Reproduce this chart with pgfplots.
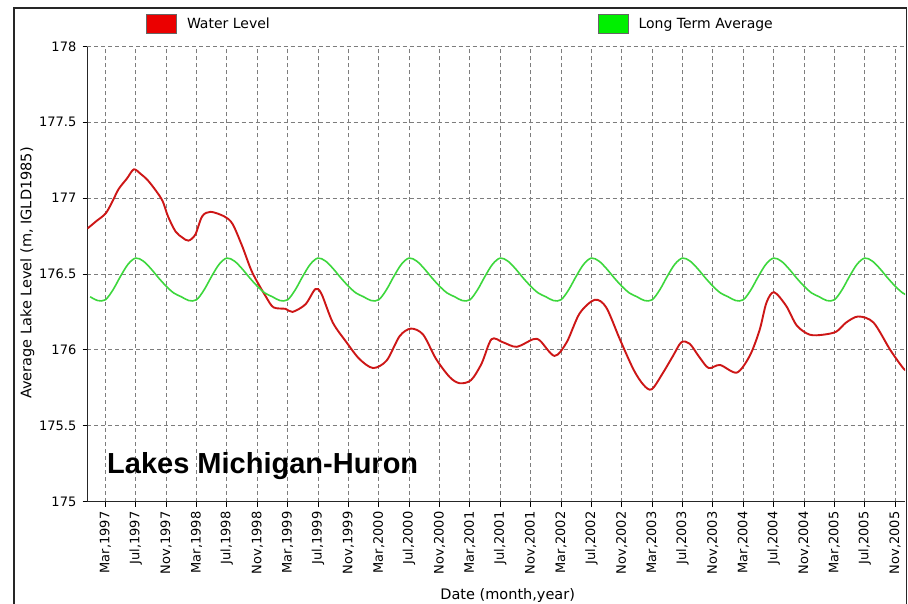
\documentclass[border=0pt]{standalone}
\usepackage{fontspec}
\setmainfont{DejaVu Sans}
\newfontfamily\titlefont{Liberation Sans}
\usepackage{pgfplots}
\pgfplotsset{compat=1.18}
\definecolor{wred}{RGB}{205,22,22}
\definecolor{lgreen}{RGB}{60,215,60}
\definecolor{legred}{RGB}{235,0,0}
\definecolor{leggreen}{RGB}{0,240,0}
\definecolor{gridgray}{RGB}{125,125,125}
\begin{document}
\begin{tikzpicture}[x=1pt,y=1pt]
\useasboundingbox (-87.5,-101.5) rectangle (820.5,501.5);
\fill[white] (-87.5,-101.5) rectangle (820.5,501.5);
\draw[line width=1.3pt, black!85] (-73.5,-120) -- (-73.5,493.5) -- (819,493.5) -- (819,-120);
\begin{axis}[
  at={(0,0)}, anchor=south west,
  scale only axis, width=817.5pt, height=455pt,
  xmin=-0.35, xmax=107.3, ymin=175, ymax=178,
  axis x line*=bottom, axis y line*=left,
  axis line style={line width=1.3pt, black!85, -},
  tick align=outside, major tick length=5pt,
  tick style={black, line width=0.9pt},
  grid=major,
  grid style={gridgray, line width=0.8pt, dash pattern=on 4pt off 3pt},
  xtick={2,6,...,106},
  xticklabels={{Mar,1997},{Jul,1997},{Nov,1997},{Mar,1998},{Jul,1998},{Nov,1998},{Mar,1999},{Jul,1999},{Nov,1999},{Mar,2000},{Jul,2000},{Nov,2000},{Mar,2001},{Jul,2001},{Nov,2001},{Mar,2002},{Jul,2002},{Nov,2002},{Mar,2003},{Jul,2003},{Nov,2003},{Mar,2004},{Jul,2004},{Nov,2004},{Mar,2005},{Jul,2005},{Nov,2005}},
  ytick={175,175.5,176,176.5,177,177.5,178},
  yticklabels={175,175.5,176,176.5,177,177.5,178},
  xticklabel style={rotate=90, anchor=east, inner sep=0pt, xshift=-5pt, font=\fontsize{13}{15}\selectfont},
  yticklabel style={anchor=east, inner sep=0pt, xshift=-6pt, font=\fontsize{13}{15}\selectfont},
  xlabel={Date (month,year)},
  ylabel={Average Lake Level (m, IGLD1985)},
  xlabel style={at={(axis description cs:0.514,-0.2055)}, anchor=center, font=\fontsize{14.5}{16}\selectfont},
  ylabel style={at={(axis description cs:-0.0735,0.502)}, anchor=center, font=\fontsize{14.5}{16}\selectfont},
  legend columns=2,
  legend style={at={(axis description cs:0.0716,1.0495)}, anchor=west, draw=none, fill=none,
    inner sep=0pt, nodes={inner sep=0pt, anchor=west}, font=\fontsize{14}{16}\selectfont,
    /tikz/every odd column/.style={column sep=10pt},
    /tikz/every even column/.style={column sep=328pt}},
  clip=true,
]
\addplot[wred, line width=1.9pt, smooth, tension=0.5,
  x filter/.code={\pgfmathparse{\pgfmathresult-0.35}},
  legend image code/.code={\filldraw[line width=0.8pt, draw=black!60, fill=legred] (0pt,-9.5pt) rectangle (30pt,9.5pt);}]
  table {
x y
0 176.80
1.2 176.85
2.4 176.90
3.3 176.98
4.1 177.06
5.2 177.13
6.1 177.19
7.0 177.16
7.9 177.12
9.0 177.05
9.9 176.98
10.6 176.88
11.6 176.78
12.5 176.74
13.3 176.72
14.2 176.76
15.1 176.88
16.2 176.91
18.0 176.88
19.1 176.83
20.4 176.68
21.7 176.51
23.5 176.35
24.5 176.28
26.1 176.27
27.0 176.25
28.7 176.30
30.0 176.40
30.8 176.37
32.3 176.18
34.1 176.05
35.8 175.94
37.6 175.88
39.4 175.93
41.1 176.09
42.6 176.14
44.2 176.10
45.9 175.94
47.7 175.82
49.0 175.78
50.5 175.80
51.9 175.91
53.2 176.07
54.7 176.05
56.5 176.02
58.7 176.07
59.6 176.06
61.5 175.96
63.1 176.05
64.8 176.24
66.8 176.33
68.3 176.28
70.1 176.07
71.9 175.87
73.2 175.77
74.3 175.74
75.8 175.85
77.1 175.96
78.2 176.05
79.3 176.04
80.6 175.95
81.8 175.88
83.3 175.90
85.5 175.85
87.2 175.96
88.5 176.13
89.4 176.31
90.4 176.38
92.0 176.29
93.4 176.16
95.1 176.10
96.9 176.10
98.6 176.12
99.9 176.18
101.5 176.22
103.5 176.18
105.7 176.00
107.4 175.88
108.0 175.86
};
\addlegendentry{Water Level}
\addplot[lgreen, line width=1.6pt, smooth, tension=0.55,
  legend image code/.code={\filldraw[line width=0.8pt, draw=black!60, fill=leggreen] (0pt,-9.5pt) rectangle (30pt,9.5pt);}]
  table {
x y
0 176.350
1 176.325
2 176.330
3 176.395
4 176.485
5 176.565
6 176.605
7 176.585
8 176.535
9 176.475
10 176.420
11 176.375
12 176.350
13 176.325
14 176.330
15 176.395
16 176.485
17 176.565
18 176.605
19 176.585
20 176.535
21 176.475
22 176.420
23 176.375
24 176.350
25 176.325
26 176.330
27 176.395
28 176.485
29 176.565
30 176.605
31 176.585
32 176.535
33 176.475
34 176.420
35 176.375
36 176.350
37 176.325
38 176.330
39 176.395
40 176.485
41 176.565
42 176.605
43 176.585
44 176.535
45 176.475
46 176.420
47 176.375
48 176.350
49 176.325
50 176.330
51 176.395
52 176.485
53 176.565
54 176.605
55 176.585
56 176.535
57 176.475
58 176.420
59 176.375
60 176.350
61 176.325
62 176.330
63 176.395
64 176.485
65 176.565
66 176.605
67 176.585
68 176.535
69 176.475
70 176.420
71 176.375
72 176.350
73 176.325
74 176.330
75 176.395
76 176.485
77 176.565
78 176.605
79 176.585
80 176.535
81 176.475
82 176.420
83 176.375
84 176.350
85 176.325
86 176.330
87 176.395
88 176.485
89 176.565
90 176.605
91 176.585
92 176.535
93 176.475
94 176.420
95 176.375
96 176.350
97 176.325
98 176.330
99 176.395
100 176.485
101 176.565
102 176.605
103 176.585
104 176.535
105 176.475
106 176.420
107 176.375
108 176.350
};
\addlegendentry{Long Term Average}
\node[anchor=base west, inner sep=0pt, font=\titlefont\bfseries\fontsize{29}{32}\selectfont] at (axis description cs:0.0239,0.0626) {Lakes Michigan-Huron};
\end{axis}
\end{tikzpicture}
\end{document}
